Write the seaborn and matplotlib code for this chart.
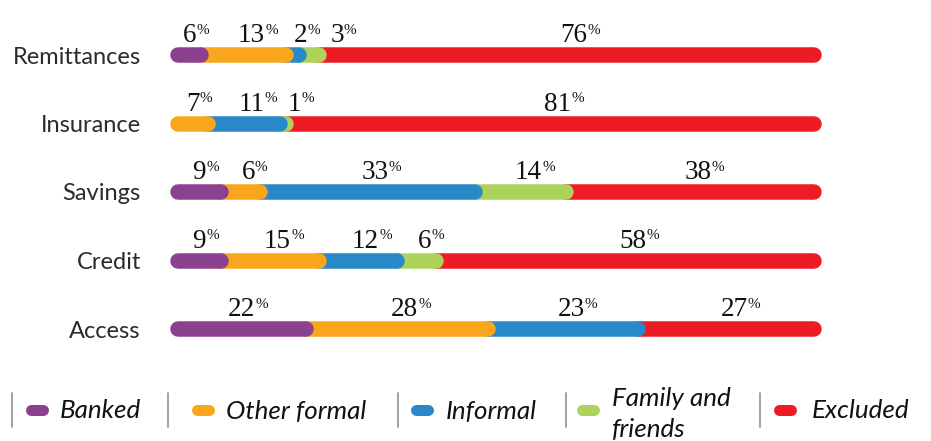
import matplotlib.pyplot as plt
import seaborn as sns
import numpy as np
import pandas as pd

# shares of adults by channel, per financial service (each row sums to 100)
categories = ["Remittances", "Insurance", "Savings", "Credit", "Access"]
groups = ["Banked", "Other formal", "Informal", "Family and\nfriends", "Excluded"]
banked = [6, 0, 9, 9, 22]
other_formal = [13, 7, 6, 15, 28]
informal = [2, 11, 33, 12, 23]
family_friends = [3, 1, 14, 6, 0]
excluded = [76, 81, 38, 58, 27]
colors = ["#8B418F", "#F9A61C", "#2988C7", "#AED35A", "#ED1C24"]

sns.set_theme(style="white")
plt.rcParams["font.family"] = ["Lato", "DejaVu Sans"]
plt.rcParams["path.simplify"] = False

series = [banked, other_formal, informal, family_friends, excluded]
rows = []
for i, cat in enumerate(categories):
    start = 0
    for g, vals in enumerate(series):
        rows.append({"row": i, "category": cat, "group": groups[g],
                     "value": vals[i], "start": start, "end": start + vals[i],
                     "color": colors[g]})
        start += vals[i]
df = pd.DataFrame(rows)

fig = plt.figure(figsize=(9.31, 4.41), dpi=100)

# legend canvas in pixel units
lax = fig.add_axes([0, 0, 1, 1])
lax.set_xlim(0, 931)
lax.set_ylim(441, 0)
lax.axis("off")

ax = fig.add_axes([170 / 931, 1 - 363.25 / 441, 652 / 931, 342.5 / 441])
ax.set_xlim(0, 100)
ax.set_ylim(4.5, -0.5)

px_per_unit = 652 / 100
lw_px = 15.5
r = (lw_px / 2) / px_per_unit

# draw right to left so the left segment's rounded end sits on top;
# every segment except the first slides under its left neighbour
for _, s in df.iloc[::-1].iterrows():
    if s.value <= 0:
        continue
    first = s.start == 0
    a = s.start + r if first else s.start - r
    b = s.end - r
    ax.plot([a, b], [s.row, s.row], color=s.color, lw=lw_px * 0.72,
            solid_capstyle="round")

# value labels: digits centred on the segment, small % after
dig_w, pct_w, gap = 1.05, 1.5, 2.0
for i in range(len(categories)):
    prev_right = -99
    sub = df[(df.row == i) & (df.value > 0)]
    for _, s in sub.iterrows():
        txt = str(int(s.value))
        half = len(txt) * dig_w
        cx = (s.start + s.end) / 2
        if cx - half < prev_right + gap:
            cx = prev_right + gap + half
        prev_right = cx + half + pct_w
        t = ax.text(cx, i - 0.185, txt, ha="center", va="baseline",
                    fontsize=19.5, family="Liberation Serif", color="#111111")
        ax.annotate("%", xy=(1.0, 0.98), xycoords=t, ha="left", va="top",
                    fontsize=11, family="Liberation Serif", color="#111111")

ax.set_yticks(range(len(categories)), categories)
ax.set_xticks([])
ax.tick_params(axis="y", length=0, pad=21, labelsize=17, labelcolor="#2b2b2b")
sns.despine(ax=ax, left=True, bottom=True)

# legend
sep_x = [12, 168, 398, 566, 760]
mark_x = [37, 203, 422, 588, 785]
text_x = [60, 226, 446, 612, 812]
ly = 410
for g in range(len(groups)):
    lax.plot([sep_x[g], sep_x[g]], [393, 427], color="#9a9a9a", lw=1.3)
    lax.plot([mark_x[g] - 6, mark_x[g] + 6], [ly, ly], color=colors[g],
             lw=11 * 0.72, solid_capstyle="round")
    two_line = "\n" in groups[g]
    lax.text(text_x[g], ly + (4 if two_line else 1), groups[g], ha="left",
             va="center", fontsize=18.7, style="italic", color="#111111",
             linespacing=1.4)

fig.savefig("out.png", dpi=100)
